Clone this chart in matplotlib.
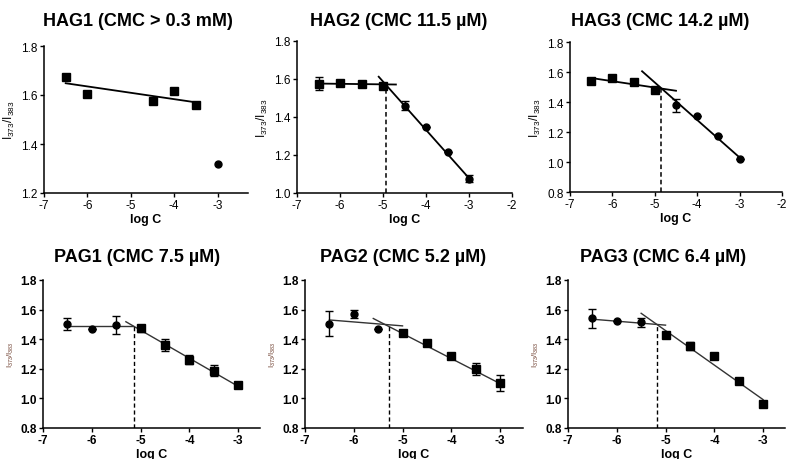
import matplotlib
matplotlib.use("Agg")
import matplotlib.pyplot as plt

plt.rcParams["font.family"] = ["Liberation Sans", "DejaVu Sans"]
plt.rcParams["mathtext.fontset"] = "custom"
plt.rcParams["mathtext.rm"] = "Liberation Sans"
plt.rcParams["mathtext.it"] = "Liberation Sans"

# ---- data ----
titles = ["HAG1 (CMC > 0.3 mM)", "HAG2 (CMC 11.5 \u00b5M)", "HAG3 (CMC 14.2 \u00b5M)",
          "PAG1 (CMC 7.5 \u00b5M)", "PAG2 (CMC 5.2 \u00b5M)", "PAG3 (CMC 6.4 \u00b5M)"]
xticks_short = [-7, -6, -5, -4, -3]
xticks_long = [-7, -6, -5, -4, -3, -2]

# HAG1
hag1_sq_x = [-6.5, -6.0, -4.5, -4.0, -3.5]
hag1_sq_y = [1.672, 1.606, 1.575, 1.617, 1.560]
hag1_ci_x = [-3.0]
hag1_ci_y = [1.320]
hag1_fit_x = [-6.5, -3.5]
hag1_fit_y = [1.648, 1.570]

# HAG2
hag2_sq_x = [-6.5, -6.0, -5.5, -5.0]
hag2_sq_y = [1.576, 1.579, 1.576, 1.561]
hag2_sq_err = [0.035, 0.0, 0.0, 0.0]
hag2_ci_x = [-4.5, -4.0, -3.5, -3.0]
hag2_ci_y = [1.460, 1.350, 1.214, 1.076]
hag2_ci_err = [0.025, 0.0, 0.0, 0.02]
hag2_flat_x = [-6.5, -4.7]
hag2_flat_y = [1.576, 1.571]
hag2_fit_x = [-5.1, -3.0]
hag2_fit_y = [1.612, 1.078]
hag2_cmc = -4.94

# HAG3
hag3_sq_x = [-6.5, -6.0, -5.5, -5.0]
hag3_sq_y = [1.540, 1.562, 1.533, 1.482]
hag3_ci_x = [-4.5, -4.0, -3.5, -3.0]
hag3_ci_y = [1.378, 1.306, 1.176, 1.018]
hag3_ci_err = [0.045, 0.0, 0.0, 0.0]
hag3_flat_x = [-6.5, -4.5]
hag3_flat_y = [1.560, 1.475]
hag3_fit_x = [-5.3, -3.0]
hag3_fit_y = [1.605, 1.030]
hag3_cmc = -4.85

# PAG1
pag1_ci_x = [-6.5, -6.0, -5.5]
pag1_ci_y = [1.500, 1.472, 1.497]
pag1_ci_err = [0.04, 0.0, 0.06]
pag1_sq_x = [-5.0, -4.5, -4.0, -3.5, -3.0]
pag1_sq_y = [1.473, 1.362, 1.262, 1.188, 1.088]
pag1_sq_err = [0.025, 0.04, 0.03, 0.035, 0.02]
pag1_flat_x = [-6.5, -5.15]
pag1_flat_y = [1.490, 1.490]
pag1_fit_x = [-5.3, -3.0]
pag1_fit_y = [1.518, 1.082]
pag1_cmc = -5.14

# PAG2
pag2_ci_x = [-6.5, -6.0, -5.5]
pag2_ci_y = [1.506, 1.569, 1.468]
pag2_ci_err = [0.085, 0.025, 0.0]
pag2_sq_x = [-5.0, -4.5, -4.0, -3.5, -3.0]
pag2_sq_y = [1.439, 1.374, 1.284, 1.198, 1.102]
pag2_sq_err = [0.015, 0.02, 0.015, 0.04, 0.055]
pag2_flat_x = [-6.5, -5.0]
pag2_flat_y = [1.530, 1.490]
pag2_fit_x = [-5.6, -3.0]
pag2_fit_y = [1.540, 1.100]
pag2_cmc = -5.28

# PAG3
pag3_ci_x = [-6.5, -6.0, -5.5]
pag3_ci_y = [1.540, 1.520, 1.513]
pag3_ci_err = [0.065, 0.0, 0.03]
pag3_sq_x = [-5.0, -4.5, -4.0, -3.5, -3.0]
pag3_sq_y = [1.428, 1.354, 1.284, 1.116, 0.964]
pag3_sq_err = [0.0, 0.03, 0.02, 0.0, 0.0]
pag3_flat_x = [-6.5, -5.0]
pag3_flat_y = [1.535, 1.495]
pag3_fit_x = [-5.5, -3.0]
pag3_fit_y = [1.575, 0.992]
pag3_cmc = -5.18

W, H = 790, 460
fig = plt.figure(figsize=(W / 100, H / 100), dpi=100)


def px_axes(left, right, top, bottom):
    return fig.add_axes([left / W, 1 - bottom / H, (right - left) / W, (bottom - top) / H])


def style(ax, xlim, xticks, ylim, yticks, bold):
    weight = "bold" if bold else "normal"
    ax.set_xlim(*xlim)
    ax.set_ylim(*ylim)
    ax.set_yticks(yticks)
    ax.set_yticklabels([f"{t:.1f}" for t in yticks], fontweight=weight, fontsize=8.5)
    ax.set_xticks(xticks)
    ax.set_xticklabels([str(t) for t in xticks], fontweight=weight, fontsize=8.5)
    for side in ("top", "right"):
        ax.spines[side].set_visible(False)
    for side in ("left", "bottom"):
        ax.spines[side].set_linewidth(1.1)
    ax.tick_params(direction="out", length=3, width=1.0, pad=1.5)
    ax.set_xlabel("log C", fontsize=9, fontweight="bold", labelpad=1.5)
    if bold:
        ax.set_ylabel(r"I$_{373}$/I$_{383}$", fontsize=5.5, color="#6b3a2a", labelpad=3)
    else:
        ax.set_ylabel(r"I$_{373}$/I$_{383}$", fontsize=8.5, labelpad=3)


def marks(ax, x, y, marker, err=None, ms=5.5, color="black"):
    if err is None:
        ax.plot(x, y, linestyle="none", marker=marker, color=color, markersize=ms, zorder=4)
    else:
        ax.errorbar(x, y, yerr=err, fmt=marker, color=color, markersize=ms,
                    capsize=3, elinewidth=1.0, capthick=1.0, zorder=4)


# --- top row ---
ax1 = px_axes(44, 248, 47, 194)
style(ax1, (-7, -2.3), xticks_short, (1.2, 1.8), [1.2, 1.4, 1.6, 1.8], False)
ax1.plot(hag1_fit_x, hag1_fit_y, color="black", lw=1.3)
marks(ax1, hag1_sq_x, hag1_sq_y, "s")
marks(ax1, hag1_ci_x, hag1_ci_y, "o", ms=5)

ax2 = px_axes(297, 512, 42, 194)
style(ax2, (-7, -2), xticks_long, (1.0, 1.8), [1.0, 1.2, 1.4, 1.6, 1.8], False)
ax2.plot(hag2_flat_x, hag2_flat_y, color="black", lw=1.3)
ax2.plot(hag2_fit_x, hag2_fit_y, color="black", lw=1.3)
ax2.plot([hag2_cmc, hag2_cmc], [1.0, hag2_flat_y[1]], color="black", lw=1.1, ls=(0, (3, 2)))
marks(ax2, hag2_sq_x, hag2_sq_y, "s", hag2_sq_err)
marks(ax2, hag2_ci_x, hag2_ci_y, "o", hag2_ci_err, ms=5)

ax3 = px_axes(570, 782, 43, 193)
style(ax3, (-7, -2), xticks_long, (0.8, 1.8), [0.8, 1.0, 1.2, 1.4, 1.6, 1.8], False)
ax3.plot(hag3_flat_x, hag3_flat_y, color="black", lw=1.3)
ax3.plot(hag3_fit_x, hag3_fit_y, color="black", lw=1.3)
ax3.plot([hag3_cmc, hag3_cmc], [0.8, 1.49], color="black", lw=1.1, ls=(0, (3, 2)))
marks(ax3, hag3_sq_x, hag3_sq_y, "s")
marks(ax3, hag3_ci_x, hag3_ci_y, "o", hag3_ci_err, ms=5)

# --- bottom row ---
bottom_panels = [
    (43, 260, (-7, -2.55), pag1_ci_x, pag1_ci_y, pag1_ci_err, pag1_sq_x, pag1_sq_y, pag1_sq_err,
     pag1_flat_x, pag1_flat_y, pag1_fit_x, pag1_fit_y, pag1_cmc),
    (305, 523, (-7, -2.53), pag2_ci_x, pag2_ci_y, pag2_ci_err, pag2_sq_x, pag2_sq_y, pag2_sq_err,
     pag2_flat_x, pag2_flat_y, pag2_fit_x, pag2_fit_y, pag2_cmc),
    (568, 785, (-7, -2.55), pag3_ci_x, pag3_ci_y, pag3_ci_err, pag3_sq_x, pag3_sq_y, pag3_sq_err,
     pag3_flat_x, pag3_flat_y, pag3_fit_x, pag3_fit_y, pag3_cmc),
]
for (l, r, xlim, cx, cy, ce, sx, sy, se, fx, fy, tx, ty, cmc) in bottom_panels:
    ax = px_axes(l, r, 281, 429)
    style(ax, xlim, xticks_short, (0.8, 1.8), [0.8, 1.0, 1.2, 1.4, 1.6, 1.8], True)
    ax.plot(fx, fy, color="#333333", lw=1.0)
    ax.plot(tx, ty, color="#333333", lw=1.0)
    ax.plot([cmc, cmc], [0.8, 1.495], color="black", lw=1.0, ls=(0, (3, 2)))
    marks(ax, cx, cy, "o", ce, ms=5)
    marks(ax, sx, sy, "s", se, ms=6)

# titles
title_pos = [(138, 22), (399, 22), (660, 22), (137, 257), (403, 257), (663, 257)]
for t, (x, y) in zip(titles, title_pos):
    fig.text(x / W, 1 - y / H, t, ha="center", va="center", fontsize=13, fontweight="bold")

fig.savefig("out.png", dpi=100)
